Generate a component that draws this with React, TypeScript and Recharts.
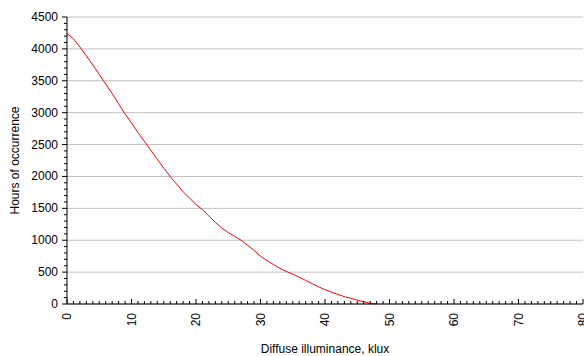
import React from 'react';
import { LineChart, Line, XAxis, YAxis, CartesianGrid } from 'recharts';

const illuminance = [0,1,2,3,4,5,6,7,8,9,10,11,12,13,14,15,16,17,18,19,20,21,22,23,24,25,26,27,28,29,30,31,32,33,34,35,36,37,38,39,40,41,42,43,44,45,46,47,48];
const hours = [4240,4160,4030,3890,3750,3600,3450,3300,3140,2980,2840,2690,2550,2410,2270,2130,2000,1880,1760,1660,1560,1480,1380,1280,1190,1120,1060,1000,920,840,750,680,620,560,510,470,420,370,320,270,225,185,150,115,90,60,35,12,0];

const xTicks = Array.from({ length: 81 }, (_, i) => i);
const xMajor = [0,10,20,30,40,50,60,70,80];
const yTicks = Array.from({ length: 46 }, (_, i) => i * 100);
const yMajor = [0,500,1000,1500,2000,2500,3000,3500,4000,4500];

const data = illuminance.map((x, i) => ({ x, h: hours[i] }));

const FONT = 'Liberation Sans, Arial, sans-serif';

const XTick = (props: any) => {
  const { x, y, payload } = props;
  const v = payload.value;
  const major = xMajor.includes(v);
  return (
    <g>
      <line x1={x} y1={y} x2={x} y2={y - (major ? 5 : 3)} stroke="#000" strokeWidth={1} />
      {major && (
        <text
          x={x}
          y={y + 9}
          transform={`rotate(-90, ${x}, ${y + 9})`}
          textAnchor="end"
          dominantBaseline="central"
          fontSize={12}
          fontFamily={FONT}
          fill="#000"
        >
          {v}
        </text>
      )}
    </g>
  );
};

const YTick = (props: any) => {
  const { x, y, payload } = props;
  const v = payload.value;
  const major = yMajor.includes(v);
  return (
    <g>
      <line x1={x} y1={y} x2={x - (major ? 5 : 3)} y2={y} stroke="#000" strokeWidth={1} />
      {major && (
        <text
          x={x - 9}
          y={y}
          textAnchor="end"
          dominantBaseline="central"
          fontSize={12}
          fontFamily={FONT}
          fill="#000"
        >
          {v}
        </text>
      )}
    </g>
  );
};

export default function App() {
  return (
    <div style={{ position: 'absolute', left: 0, top: 0, width: 584, height: 356, background: '#fff' }}>
      <LineChart width={584} height={356} data={data} margin={{ top: 17, right: 1, bottom: 0, left: 0 }}>
        <CartesianGrid horizontal vertical={false} horizontalValues={yMajor} stroke="#c0c0c0" strokeWidth={1} />
        <XAxis
          dataKey="x"
          type="number"
          domain={[0, 80]}
          ticks={xTicks}
          interval={0}
          tickLine={false}
          tickSize={0}
          tickMargin={0}
          tick={<XTick />}
          axisLine={{ stroke: '#000', strokeWidth: 1 }}
          height={52}
          label={{ value: 'Diffuse illuminance, klux', position: 'insideBottom', offset: 3, fontSize: 12, fontFamily: FONT, fill: '#000' }}
        />
        <YAxis
          type="number"
          domain={[0, 4500]}
          ticks={yTicks}
          interval={0}
          tickLine={false}
          tickSize={0}
          tickMargin={0}
          tick={<YTick />}
          axisLine={{ stroke: '#000', strokeWidth: 1 }}
          width={67}
          label={{ value: 'Hours of occurrence', angle: -90, position: 'insideLeft', offset: 15, fontSize: 12, fontFamily: FONT, fill: '#000', style: { textAnchor: 'middle' } }}
        />
        <Line type="linear" dataKey="h" stroke="#ff0000" strokeWidth={1} dot={false} isAnimationActive={false} />
      </LineChart>
    </div>
  );
}
